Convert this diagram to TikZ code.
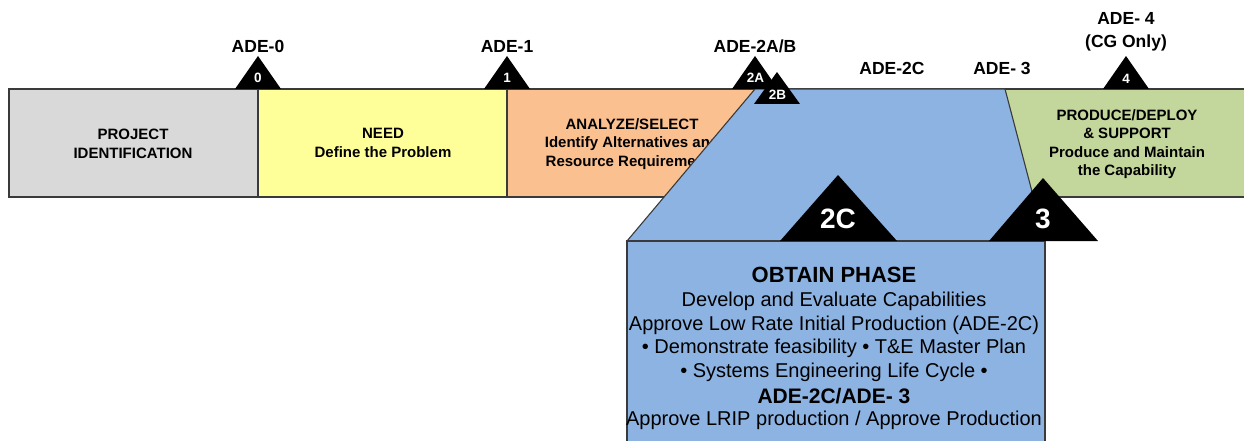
\documentclass[tikz,border=0pt]{standalone}
\usepackage{fontspec}
\setmainfont{Liberation Sans}
\definecolor{edge}{HTML}{3A3A3A}
\definecolor{phasegray}{HTML}{D9D9D9}
\definecolor{phaseyellow}{HTML}{FFFF99}
\definecolor{phaseorange}{HTML}{FAC090}
\definecolor{phaseblue}{HTML}{8DB3E2}
\definecolor{phasegreen}{HTML}{C3D69B}
\tikzset{
  outline/.style={draw=edge, line width=1.1pt, line join=miter},
  mstone/.style={fill=black},
  adelabel/.style={font=\fontsize{17.5}{19}\selectfont\bfseries, inner sep=0pt},
  msnum/.style={font=\fontsize{13.5}{15}\selectfont\bfseries, text=white, inner sep=0pt},
  bignum/.style={font=\fontsize{28}{30}\selectfont\bfseries, text=white, inner sep=0pt},
  phasetext/.style={font=\fontsize{15}{18.5}\selectfont\bfseries, align=center, inner sep=0pt},
  obtainhead/.style={font=\fontsize{22}{24}\selectfont\bfseries, inner sep=0pt},
  obtainline/.style={font=\fontsize{20}{22}\selectfont, inner sep=0pt},
}
\begin{document}
\begin{tikzpicture}[x=1pt,y=-1pt]
\useasboundingbox (0,0) rectangle (1244,441);

% phase bar
\fill[phasegray]   (9,89) rectangle (258,197);
\fill[phaseyellow] (258,89) rectangle (507,197);
\fill[phaseorange] (507,89) rectangle (820,197);
\fill[phasegreen]  (1005,89) -- (1244,89) -- (1244,197) -- (1033.5,197) -- cycle;
\draw[outline] (1244,89) -- (9,89) -- (9,197) -- (1244,197);
\draw[outline] (258,89) -- (258,197);
\draw[outline] (507,89) -- (507,197);

% phase texts
\node[phasetext] (ident) at (133,144) {PROJECT\\IDENTIFICATION};
\node[phasetext] (need) at (383,143) {NEED\\Define the Problem};
\node[phasetext] (analyze) at (632,144) {ANALYZE/SELECT\\Identify Alternatives and\\Resource Requirements};
\node[phasetext] (produce) at (1127,144) {PRODUCE/DEPLOY\\\& SUPPORT\\Produce and Maintain\\the Capability};

% obtain phase
\filldraw[fill=phaseblue, outline] (755,89) -- (1005,89) -- (1045,241) -- (627,241) -- cycle;
\fill[phaseblue] (627,241) rectangle (1045,441);
\draw[outline] (627,441) -- (627,241) -- (1045,241) -- (1045,441);

% milestone triangles
\fill[mstone] (235,89) -- (281,89) -- (258,56) -- cycle;
\fill[mstone] (484,89) -- (530,89) -- (507,56) -- cycle;
\fill[mstone] (732,89) -- (778,89) -- (755,56) -- cycle;
\fill[mstone] (754,104) -- (800,104) -- (777,72) -- cycle;
\fill[mstone] (1103,89) -- (1149,89) -- (1126,56) -- cycle;
\fill[mstone] (780,241) -- (897,241) -- (838,175) -- cycle;
\fill[mstone] (989,241) -- (1098,241) -- (1043,178) -- cycle;

\node[msnum] (m0) at (258,78) {0};
\node[msnum] (m1) at (507,78) {1};
\node[msnum] (m2a) at (755.5,78) {2A};
\node[msnum] (m2b) at (777.5,95) {2B};
\node[msnum] (m4) at (1126,79) {4};
\node[bignum] (m2c) at (838,219) {2C};
\node[bignum] (m3) at (1043,219) {3};

% milestone labels
\node[adelabel] (l0) at (258,46) {ADE-0};
\node[adelabel] (l1) at (507,46) {ADE-1};
\node[adelabel] (l2ab) at (755,46) {ADE-2A/B};
\node[adelabel] (l2c) at (892,68) {ADE-2C};
\node[adelabel] (l3) at (1002,68) {ADE- 3};
\node[adelabel] (l4) at (1126,18) {ADE- 4};
\node[adelabel] (l4b) at (1126,43) {(CG Only)};

% obtain phase description
\node[obtainhead] (oh) at (834,275) {OBTAIN PHASE};
\node[obtainline] (o1) at (834,301) {Develop and Evaluate Capabilities};
\node[obtainline] (o2) at (834,325) {Approve Low Rate Initial Production (ADE-2C)};
\node[obtainline] (o3) at (834,348) {\textbullet\ Demonstrate feasibility \textbullet\ T\&E Master Plan};
\node[obtainline] (o4) at (834,372) {\textbullet\ Systems Engineering Life Cycle \textbullet};
\node[obtainhead, font=\fontsize{21}{23}\selectfont\bfseries] (oh2) at (834,396) {ADE-2C/ADE- 3};
\node[obtainline] (o5) at (834,420) {Approve LRIP production / Approve Production};
\end{tikzpicture}
\end{document}
